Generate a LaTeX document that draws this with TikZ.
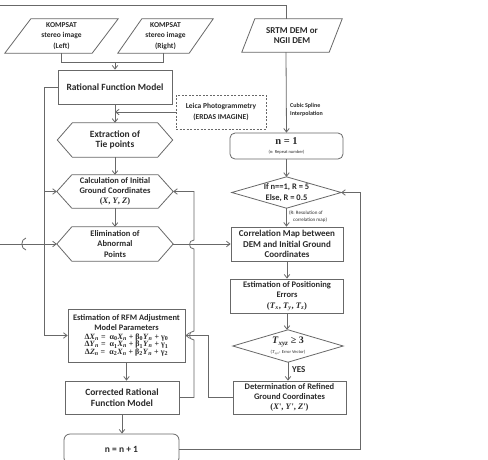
\documentclass[tikz,border=0pt]{standalone}
\usepackage{fontspec}
\setmainfont{Carlito}
\newfontfamily\tms{Liberation Serif}
\usetikzlibrary{arrows.meta,calc}
\definecolor{lc}{HTML}{686868}
\definecolor{tc}{HTML}{2A2A2A}
\newcommand\drawhex[1]{\draw[ln] (#1.west) -- ([xshift=15pt]#1.north west) -- ([xshift=-15pt]#1.north east) -- (#1.east) -- ([xshift=-15pt]#1.south east) -- ([xshift=15pt]#1.south west) -- cycle;}
\newcommand\drawpara[2]{\draw[ln] (#2.south west) -- ([xshift=#1pt]#2.north west) -- (#2.north east) -- ([xshift=-#1pt]#2.south east) -- cycle;}
\newcommand\drawdiam[1]{\draw[ln] (#1.west) -- (#1.north) -- (#1.east) -- (#1.south) -- cycle;}
\newcommand\vi[1]{\textit{#1}}
\newcommand\sbs[1]{\textsubscript{#1}}
\begin{document}
\begin{tikzpicture}[x=1pt,y=-1pt,
  ln/.style={draw=lc, line width=0.8pt},
  ar/.style={ln, -{Straight Barb[length=3.5pt,width=5.5pt]}},
  sh/.style={rectangle, inner sep=0pt, align=center, text=tc, font=\fontsize{9}{10.5}\selectfont\bfseries},
  bx/.style={sh, draw=lc, line width=0.8pt},
  lbl/.style={inner sep=0pt, align=left, text=tc}]
\useasboundingbox (0,0) rectangle (488,459);
\clip (0,0) rectangle (488,459);
\fill[white] (0,0) rectangle (488,459);

% left column
\node[sh, minimum width=113pt, minimum height=34pt, font=\fontsize{7.5}{10.3}\selectfont\bfseries] (kl) at (61.5,36) {KOMPSAT\\stereo image\\(Left)};
\drawpara{26}{kl}
\node[sh, minimum width=95pt, minimum height=34pt, font=\fontsize{7.5}{10.3}\selectfont\bfseries] (kr) at (165.5,36) {KOMPSAT\\stereo image\\(Right)};
\drawpara{24}{kr}
\node[bx, minimum width=114pt, minimum height=34pt, font=\fontsize{9.5}{11}\selectfont\bfseries] (rfm) at (115,87) {Rational Function Model};
\node[sh, draw=lc, line width=0.6pt, dash pattern=on 2pt off 1.5pt, minimum width=90pt, minimum height=34pt, font=\fontsize{7.5}{10.5}\selectfont\bfseries] (leica) at (221,112) {Leica Photogrammetry\\(ERDAS IMAGINE)};
\node[sh, minimum width=115pt, minimum height=34pt, font=\fontsize{9.5}{10.5}\selectfont\bfseries] (ext) at (115,140) {Extraction of\\Tie points};
\drawhex{ext}
\node[sh, minimum width=116pt, minimum height=33pt, font=\fontsize{8.5}{10.2}\selectfont\bfseries] (calc) at (115,191.5) {Calculation of Initial\\Ground Coordinates\\{\tms\bfseries (\vi{X}, \vi{Y}, \vi{Z})}};
\drawhex{calc}
\node[sh, minimum width=116pt, minimum height=34pt, font=\fontsize{8.5}{10.5}\selectfont\bfseries] (elim) at (115,244) {Elimination of\\Abnormal\\Points};
\drawhex{elim}
\node[bx, minimum width=117pt, minimum height=53pt, font=\fontsize{8.4}{9.8}\selectfont\bfseries] (est) at (126.5,335.5) {Estimation of RFM Adjustment\\Model Parameters\\[-1pt]
  {\tms\bfseries\fontsize{8}{10}\selectfont Δ\vi{X}\sbs{\vi{n}} = \ α\sbs{0}\vi{X}\sbs{\vi{n}} + β\sbs{0}\vi{Y}\sbs{\vi{n}} + γ\sbs{0}}\\[-2pt]
  {\tms\bfseries\fontsize{8}{10}\selectfont Δ\vi{Y}\sbs{\vi{n}} = \ α\sbs{1}\vi{X}\sbs{\vi{n}} + β\sbs{1}\vi{Y}\sbs{\vi{n}} + γ\sbs{1}}\\[-2pt]
  {\tms\bfseries\fontsize{8}{10}\selectfont Δ\vi{Z}\sbs{\vi{n}} = \ α\sbs{2}\vi{X}\sbs{\vi{n}} + β\sbs{2}\vi{Y}\sbs{\vi{n}} + γ\sbs{2}}};
\node[bx, minimum width=114pt, minimum height=33pt, font=\fontsize{9.5}{11}\selectfont\bfseries] (crfm) at (122,397.5) {Corrected Rational\\Function Model};
\node[bx, rounded corners=6pt, minimum width=115pt, minimum height=30pt, font=\fontsize{9.5}{11}\selectfont\bfseries] (nn) at (121.5,449) {n = n + 1};

% right column
\node[sh, minimum width=100pt, minimum height=33pt, font=\fontsize{9}{10.5}\selectfont\bfseries] (srtm) at (292,35.5) {SRTM DEM or\\NGII DEM};
\drawpara{13}{srtm}
\node[bx, rounded corners=5pt, minimum width=113pt, minimum height=26pt] (n1) at (286.5,146) {{\tms\bfseries\fontsize{10.5}{11}\selectfont n = 1}\\[-1pt]{\fontsize{4.5}{5}\selectfont\mdseries (n: Repeat number)}};
\node[sh, minimum width=109pt, minimum height=31pt, font=\fontsize{8.5}{10.5}\selectfont\bfseries] (dia1) at (286.5,192.5) {If n==1, R = 5\\Else, R = 0.5};
\drawdiam{dia1}
\node[bx, minimum width=112pt, minimum height=34pt, font=\fontsize{9}{10.7}\selectfont\bfseries] (corr) at (287,244) {Correlation Map between\\DEM and Initial Ground\\Coordinates};
\node[bx, minimum width=113pt, minimum height=34pt, font=\fontsize{8.5}{10.3}\selectfont\bfseries] (epos) at (287,296) {Estimation of Positioning\\Errors\\{\tms\bfseries (\vi{T}\sbs{\vi{x}}, \vi{T}\sbs{\vi{y}}, \vi{T}\sbs{\vi{z}})}};
\node[sh, minimum width=110pt, minimum height=32pt] (dia2) at (288,346) {{\tms\bfseries\fontsize{10}{10}\selectfont \vi{T}\sbs{\vi{xyz}} ≥ 3}\\[-1pt]{\fontsize{4.5}{5}\selectfont\mdseries ({\tms\vi{T}\sbs{\vi{xyz}}}: Error Vector)}};
\drawdiam{dia2}
\node[bx, minimum width=113pt, minimum height=33pt, font=\fontsize{8.5}{10.3}\selectfont\bfseries] (det) at (289.5,397.5) {Determination of Refined\\Ground Coordinates\\{\tms\bfseries (\vi{X}', \vi{Y}', \vi{Z}')}};

% labels
\node[lbl, anchor=west, font=\fontsize{6}{7.5}\selectfont\bfseries] (cub) at (290,110) {Cubic Spline\\Interpolation};
\node[lbl, anchor=west, font=\fontsize{5}{6.5}\selectfont] (res) at (289,216.5) {(R: Resolution of\\\hspace{4pt}correlation map)};
\node[lbl, anchor=west, font=\fontsize{9}{10}\selectfont\bfseries] (yes) at (292,369.5) {YES};

% coordinates
\coordinate (top) at (0,5);
\coordinate (in) at (0,244);
\coordinate (L1) at (44,87);
\coordinate (L2) at (44,335.5);
\coordinate (R1) at (194,397.5);
\coordinate (D1) at (208,397.5);
\coordinate (D2) at (208,335.5);
\coordinate (N1) at (360,449);
\coordinate (N2) at (360,192.5);

% connectors
\draw[ln] (top) -| ($(srtm.north)+(-6,0)$);
\draw[ar] ($(srtm.south)+(-6,0)$) -- (n1.north);
\draw[ln] (kl.south) -- ++(0,9) coordinate (j1) -| ([xshift=-2.5pt]kr.south);
\draw[ar] (j1 -| rfm.north) -- (rfm.north);
\draw[ar] (rfm.south) -- (ext.north);
\draw[ar] (leica.west) -- (leica.west -| rfm.south);
\draw[ar] (ext.south) -- (calc.north);
\draw[ar] (calc.south) -- (elim.north);
\draw[ar] (rfm.west) -- (L1) -- (L2) -- (est.west);
\draw[ar] (L1 |- calc.west) -- (calc.west);
\draw[ar] (in) -- (elim.west);
\draw[ln] (26,238) .. controls (20.5,239) and (20.5,249) .. (26,250);
\draw[ar] (elim.east) -- (corr.west);
\draw[ar] (crfm.east) -- (R1) -- (194,340) .. controls (188,340) and (188,331) .. (194,331) -- (194,249) .. controls (188,249) and (188,240) .. (194,240) -- (calc.east -| R1) -- (calc.east);
\draw[ar] (det.west) -- (D1) -- (D2) -- (est.east);
\draw[ar] (est.south) -- (est.south |- crfm.north);
\draw[ar] (crfm.south) -- (crfm.south |- nn.north);
\draw[ar] (nn.east) -- (N1) -- (N2) -- (dia1.east);
\draw[ar] (n1.south) -- (dia1.north);
\draw[ar] (dia1.south) -- (dia1.south |- corr.north);
\draw[ar] (corr.south) -- (epos.north);
\draw[ar] (epos.south) -- (epos.south |- dia2.north);
\draw[ar] (dia2.south) -- (dia2.south |- det.north);
\end{tikzpicture}
\end{document}
